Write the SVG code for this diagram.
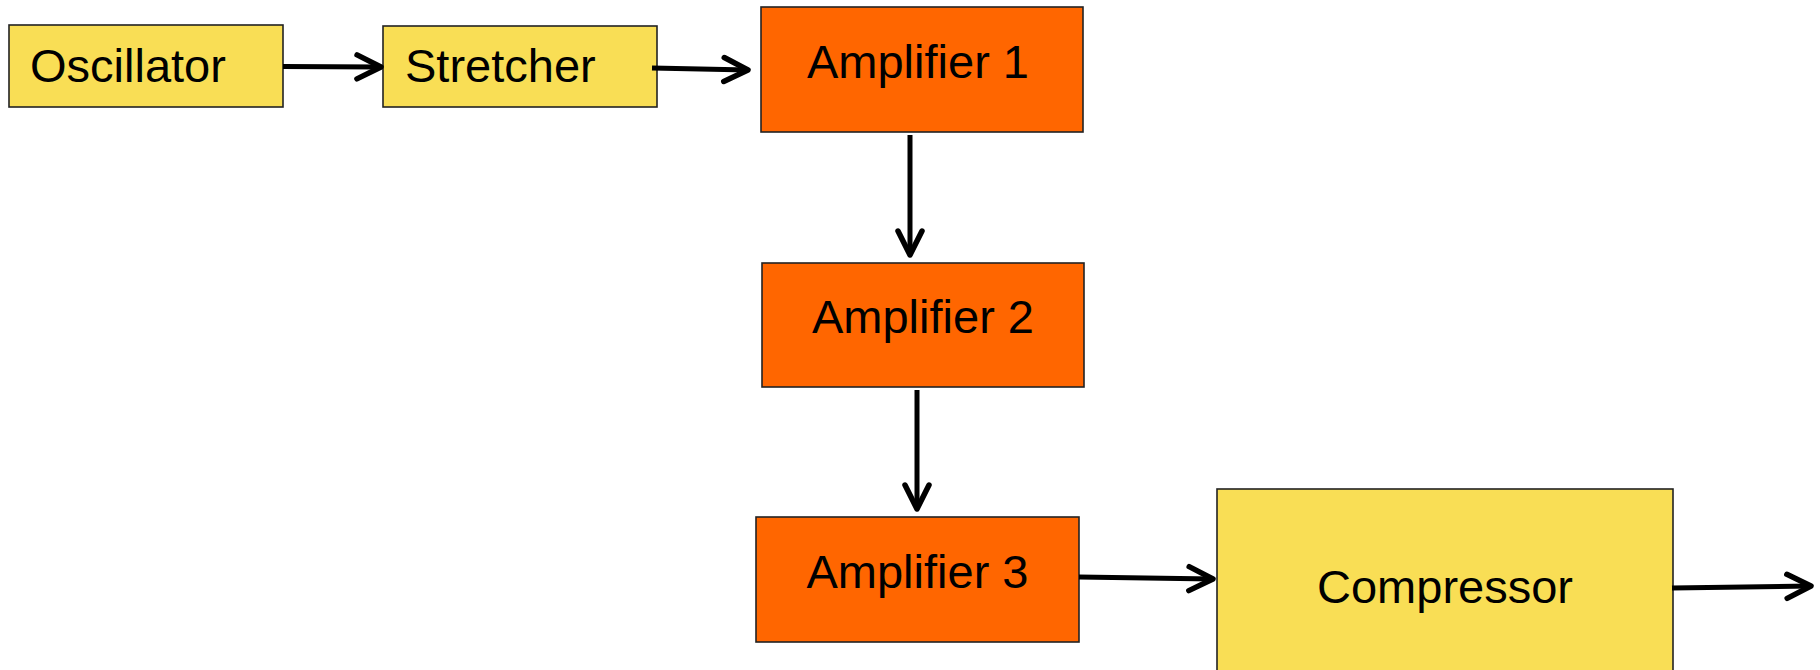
<svg xmlns="http://www.w3.org/2000/svg" width="1820" height="670" viewBox="0 0 1820 670">
<style>
.y{fill:#F9DE55;stroke:#222;stroke-width:1.6}
.o{fill:#FF6600;stroke:#222;stroke-width:1.6}
.t{font-family:"Liberation Sans",Arial,sans-serif;font-size:47px;fill:#000}
.c{fill:none;stroke:#000;stroke-width:5;marker-end:url(#ah)}
</style>
<defs>
<marker id="ah" markerUnits="userSpaceOnUse" viewBox="-30 -16 34 32" refX="0" refY="0" markerWidth="34" markerHeight="32" orient="auto" overflow="visible">
<path d="M-24,-12 L0,0 L-24,12" fill="none" stroke="#000" stroke-width="5.5" stroke-linecap="round" stroke-linejoin="round"/>
</marker>
</defs>
<rect width="1820" height="670" fill="#fff"/>
<g id="oscillator"><rect class="y" x="9" y="25" width="274" height="82"/><text class="t" x="30" y="82">Oscillator</text></g>
<g id="stretcher"><rect class="y" x="383" y="26" width="274" height="81"/><text class="t" x="405" y="82">Stretcher</text></g>
<g id="amplifier1"><rect class="o" x="761" y="7" width="322" height="125"/><text class="t" x="918" y="78" text-anchor="middle">Amplifier 1</text></g>
<g id="amplifier2"><rect class="o" x="762" y="263" width="322" height="124"/><text class="t" x="923" y="333" text-anchor="middle">Amplifier 2</text></g>
<g id="amplifier3"><rect class="o" x="756" y="517" width="323" height="125"/><text class="t" x="917.5" y="588" text-anchor="middle">Amplifier 3</text></g>
<g id="compressor"><rect class="y" x="1217" y="489" width="456" height="220"/><text class="t" x="1445" y="603" text-anchor="middle">Compressor</text></g>
<g id="connectors">
<path class="c" d="M283,66.5 L381,67"/>
<path class="c" d="M652,68 L748,70"/>
<path class="c" d="M910,135 L910,255"/>
<path class="c" d="M917,390 L917,509"/>
<path class="c" d="M1079,577 L1213,579"/>
<path class="c" d="M1672,588 L1811,586"/>
</g>
</svg>
